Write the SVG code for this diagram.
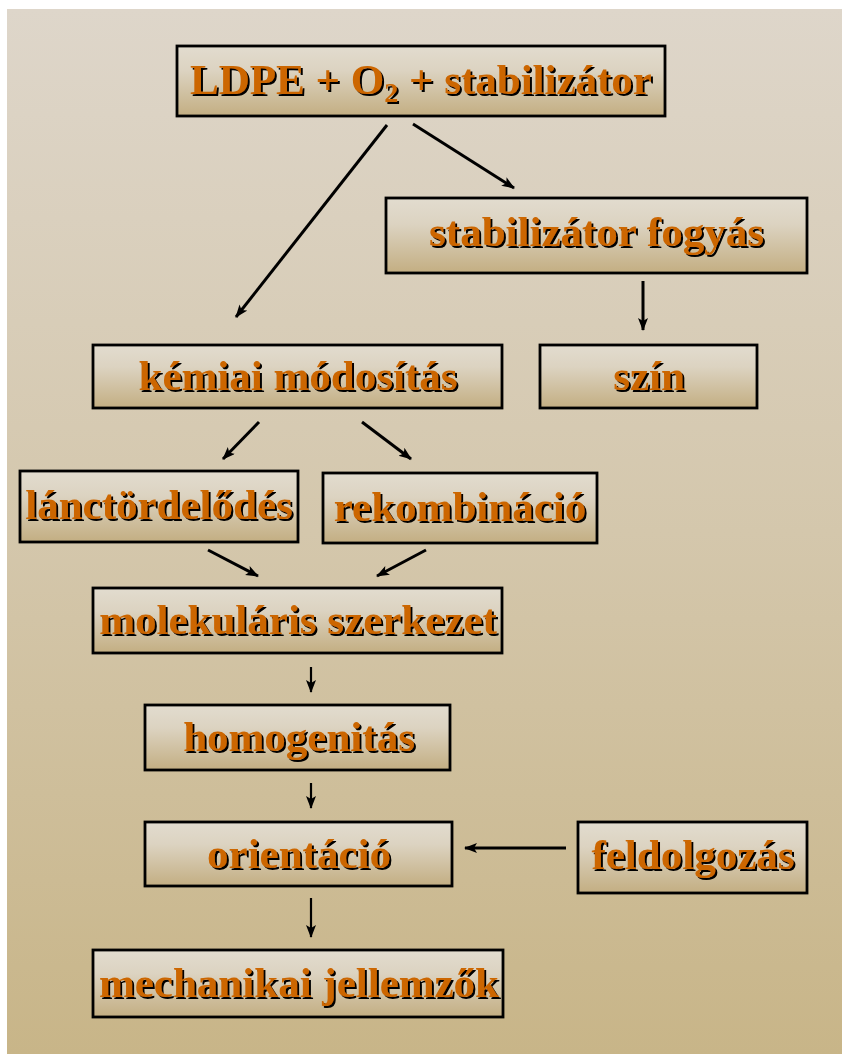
<svg xmlns="http://www.w3.org/2000/svg" width="842" height="1054" viewBox="0 0 842 1054">
  <defs>
    <linearGradient id="bg" x1="0" y1="0" x2="0" y2="1">
      <stop offset="0" stop-color="#ded6ca"/>
      <stop offset="0.5" stop-color="#d4c7ac"/>
      <stop offset="1" stop-color="#c8b588"/>
    </linearGradient>
    <linearGradient id="boxFill" x1="0" y1="0" x2="0" y2="1">
      <stop offset="0" stop-color="#e2dccf"/>
      <stop offset="0.35" stop-color="#dcd3c1"/>
      <stop offset="1" stop-color="#c3ae82"/>
    </linearGradient>
    <filter id="shadow" x="-5%" y="-20%" width="110%" height="140%">
      <feOffset in="SourceAlpha" dx="2" dy="2" result="off"/>
      <feFlood flood-color="#000"/>
      <feComposite in2="off" operator="in" result="sh"/>
      <feMerge>
        <feMergeNode in="sh"/>
        <feMergeNode in="SourceGraphic"/>
      </feMerge>
    </filter>
    <marker id="head" markerUnits="userSpaceOnUse" markerWidth="14" markerHeight="12" refX="12" refY="5" orient="auto">
      <path d="M0,0 L13,5 L0,10 L3,5 Z" fill="#000"/>
    </marker>
    <style>
      .box { fill: url(#boxFill); stroke: #000; stroke-width: 2.8; }
      .lbl { font-family: "Liberation Serif", "Times New Roman", serif; font-weight: bold; font-size: 43px; fill: #cc6600; text-anchor: middle; filter: url(#shadow); }
      .edge { stroke: #000; stroke-width: 3; fill: none; marker-end: url(#head); }
      .edge.thin { stroke-width: 2.2; }
    </style>
  </defs>

  <rect x="7" y="9" width="835" height="1045" fill="url(#bg)"/>

  <g id="connectors">
    <line class="edge" x1="387" y1="125" x2="236" y2="317"/>
    <line class="edge" x1="413" y1="124" x2="514" y2="188"/>
    <line class="edge" x1="643" y1="281" x2="643" y2="330"/>
    <line class="edge" x1="259" y1="422" x2="223" y2="459"/>
    <line class="edge" x1="362" y1="422" x2="411" y2="459"/>
    <line class="edge" x1="208" y1="550" x2="258" y2="576"/>
    <line class="edge" x1="426" y1="550" x2="377" y2="576"/>
    <line class="edge thin" x1="311" y1="667" x2="311" y2="692"/>
    <line class="edge thin" x1="311" y1="783" x2="311" y2="808"/>
    <line class="edge thin" x1="311" y1="898" x2="311" y2="937"/>
    <line class="edge" x1="566" y1="848" x2="465" y2="848"/>
  </g>

  <g id="ldpe">
    <rect class="box" x="177" y="46" width="488" height="70"/>
    <text class="lbl" x="421" y="94">LDPE + O<tspan font-size="28" dy="8">2</tspan><tspan dy="-8"> + stabilizátor</tspan></text>
  </g>
  <g id="stabilizator-fogyas">
    <rect class="box" x="386" y="198" width="421" height="75"/>
    <text class="lbl" x="596.5" y="246">stabilizátor fogyás</text>
  </g>
  <g id="kemiai-modositas">
    <rect class="box" x="93" y="345" width="409" height="63"/>
    <text class="lbl" x="298" y="390">kémiai módosítás</text>
  </g>
  <g id="szin">
    <rect class="box" x="540" y="345" width="217" height="63"/>
    <text class="lbl" x="649" y="390">szín</text>
  </g>
  <g id="lanctordelodes">
    <rect class="box" x="20" y="471" width="278" height="71"/>
    <text class="lbl" x="159" y="519">lánctördelődés</text>
  </g>
  <g id="rekombinacio">
    <rect class="box" x="323" y="473" width="274" height="70"/>
    <text class="lbl" x="460" y="521">rekombináció</text>
  </g>
  <g id="molekularis-szerkezet">
    <rect class="box" x="93" y="588" width="409" height="65"/>
    <text class="lbl" x="298" y="634">molekuláris szerkezet</text>
  </g>
  <g id="homogenitas">
    <rect class="box" x="145" y="705" width="305" height="65"/>
    <text class="lbl" x="299" y="751">homogenitás</text>
  </g>
  <g id="orientacio">
    <rect class="box" x="145" y="822" width="307" height="64"/>
    <text class="lbl" x="299" y="868">orientáció</text>
  </g>
  <g id="feldolgozas">
    <rect class="box" x="578" y="822" width="229" height="71"/>
    <text class="lbl" x="693" y="869">feldolgozás</text>
  </g>
  <g id="mechanikai-jellemzok">
    <rect class="box" x="93" y="950" width="410" height="67"/>
    <text class="lbl" x="299" y="997">mechanikai jellemzők</text>
  </g>
</svg>
